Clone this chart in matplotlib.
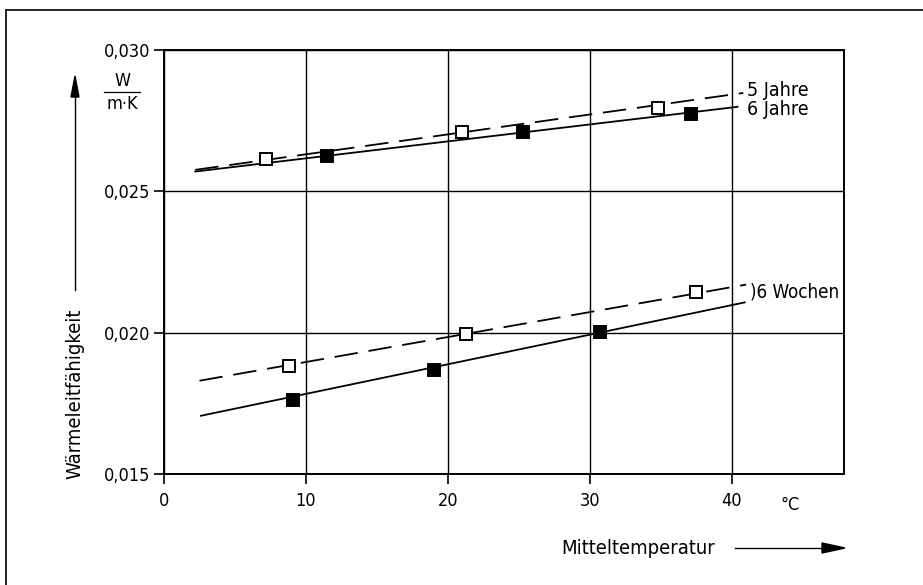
import matplotlib
matplotlib.use('Agg')
import matplotlib.pyplot as plt
from matplotlib.lines import Line2D

plt.rcParams['font.family'] = ['DejaVu Sans']
plt.rcParams['font.stretch'] = 'condensed'

# Messwerte (Mitteltemperatur in °C, Wärmeleitfähigkeit in W/(m·K))
x_5jahre = [7.2, 21.0, 34.8]
y_5jahre = [0.02615, 0.0271, 0.02795]
x_6jahre = [11.5, 25.3, 37.1]
y_6jahre = [0.02625, 0.0271, 0.02774]
x_6wochen_offen = [8.8, 21.3, 37.5]
y_6wochen_offen = [0.01883, 0.01996, 0.02145]
x_6wochen_voll = [9.1, 19.0, 30.7]
y_6wochen_voll = [0.01762, 0.01869, 0.02003]

# Ausgleichsgeraden (Anfang, Ende)
fit_5jahre_x = [2.2, 40.8]
fit_5jahre_y = [0.02576, 0.02848]
fit_6jahre_x = [2.2, 40.4]
fit_6jahre_y = [0.02570, 0.02799]
fit_6wochen_offen_x = [2.5, 41.0]
fit_6wochen_offen_y = [0.01830, 0.02170]
fit_6wochen_voll_x = [2.6, 40.9]
fit_6wochen_voll_y = [0.01706, 0.02107]

x_ticks = [0, 10, 20, 30, 40]
y_ticks = [0.015, 0.020, 0.025, 0.030]
y_ticklabels = ['0,015', '0,020', '0,025', '0,030']

fig = plt.figure(figsize=(9.23, 5.85), dpi=100)
ax = fig.add_axes([164 / 923, 1 - 474 / 585, 680 / 923, 424 / 585])

lw = 1.3
dash = (0, (13, 6))

# Geraden
ax.plot(fit_5jahre_x, fit_5jahre_y, color='black', lw=lw, linestyle=dash)
ax.plot(fit_6jahre_x, fit_6jahre_y, color='black', lw=lw)
ax.plot(fit_6wochen_offen_x, fit_6wochen_offen_y, color='black', lw=lw, linestyle=dash)
ax.plot(fit_6wochen_voll_x, fit_6wochen_voll_y, color='black', lw=lw)

# Messpunkte
ms = 8.5
ax.plot(x_5jahre, y_5jahre, 's', ms=ms, mfc='white', mec='black', mew=1.4, zorder=5)
ax.plot(x_6jahre, y_6jahre, 's', ms=ms, mfc='black', mec='black', mew=1.4, zorder=5)
ax.plot(x_6wochen_offen, y_6wochen_offen, 's', ms=ms, mfc='white', mec='black', mew=1.4, zorder=5)
ax.plot(x_6wochen_voll, y_6wochen_voll, 's', ms=ms, mfc='black', mec='black', mew=1.4, zorder=5)

# Beschriftung der Kurven
ax.text(41.1, 0.02858, '5 Jahre', fontsize=14, va='center', ha='left')
ax.text(41.1, 0.02788, '6 Jahre', fontsize=14, va='center', ha='left')
ax.text(41.3, 0.02145, ')6 Wochen', fontsize=13.5, va='center', ha='left')

ax.set_xlim(0, 47.9)
ax.set_ylim(0.015, 0.030)
ax.set_xticks(x_ticks)
ax.set_yticks(y_ticks)
ax.set_yticklabels(y_ticklabels)
ax.tick_params(axis='both', direction='out', length=7, width=1.2, labelsize=13, color='black')
ax.tick_params(axis='x', pad=6)
ax.tick_params(axis='y', pad=3)
ax.grid(True, color='black', lw=1.0)
for s in ax.spines.values():
    s.set_linewidth(1.4)

# Einheit, Achsentitel und Pfeile
fig.text(122 / 923, 1 - 81 / 585, 'W', fontsize=13, ha='center', va='center')
fig.add_artist(Line2D([104 / 923, 140 / 923], [1 - 92 / 585, 1 - 92 / 585], color='black', lw=0.9))
fig.text(122 / 923, 1 - 104 / 585, 'm·K', fontsize=13, ha='center', va='center')

fig.text(75 / 923, 1 - 479 / 585, 'Wärmeleitfähigkeit', fontsize=14.5, rotation=90, ha='center', va='bottom')
fig.add_artist(Line2D([75 / 923, 75 / 923], [1 - 290 / 585, 1 - 90 / 585], color='black', lw=1.0))
fig.patches.append(plt.Polygon([[71 / 923, 1 - 97 / 585], [79 / 923, 1 - 97 / 585], [75 / 923, 1 - 76 / 585]],
                               closed=True, color='black', transform=fig.transFigure, figure=fig))

fig.text(790 / 923, 1 - 505 / 585, '°C', fontsize=13, ha='center', va='center')
fig.text(638 / 923, 1 - 548 / 585, 'Mitteltemperatur', fontsize=14.5, ha='center', va='center')
fig.add_artist(Line2D([735 / 923, 830 / 923], [1 - 548 / 585, 1 - 548 / 585], color='black', lw=1.0))
fig.patches.append(plt.Polygon([[822 / 923, 1 - 543 / 585], [822 / 923, 1 - 553 / 585], [845 / 923, 1 - 548 / 585]],
                               closed=True, color='black', transform=fig.transFigure, figure=fig))

# Rahmen um die Abbildung
fig.add_artist(Line2D([6 / 923, 6 / 923], [0, 1 - 10 / 585], color='black', lw=1.2))
fig.add_artist(Line2D([6 / 923, 1], [1 - 10 / 585, 1 - 10 / 585], color='black', lw=1.2))

fig.savefig('out.png', dpi=100)
